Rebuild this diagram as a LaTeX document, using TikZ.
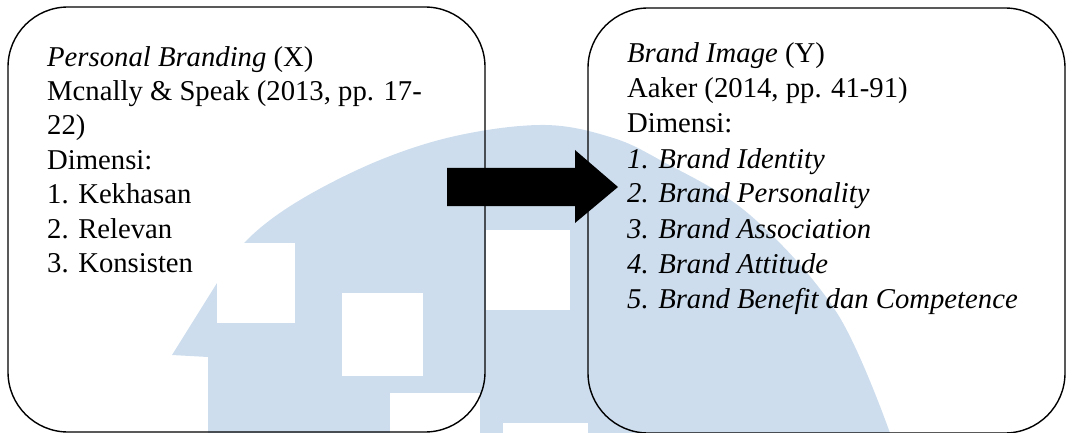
\documentclass[tikz,border=0pt]{standalone}
\usepackage{fontspec}
\setmainfont{Liberation Serif}
\definecolor{wm}{RGB}{205,221,237}
\begin{document}
\begin{tikzpicture}[x=1pt,y=-1pt,
  box/.style={draw=black,line width=1.4pt,rounded corners=60pt,inner sep=0pt,minimum width=477pt,minimum height=425pt},
  txt/.style={anchor=base west,inner sep=0pt,font=\fontsize{28.7}{34}\selectfont}]
\useasboundingbox (0,0) rectangle (1090,433);
% watermark
\fill[wm] plot[smooth,tension=0.6] coordinates {(217,283) (247,240) (300,200) (380,160) (460,135) (545,125) (610,137) (660,160) (750,215) (837,313) (890,433)} -- (208,433) -- (208,357) -- (172,355) -- cycle;
\fill[white] (217,243) rectangle (295,323);
\fill[white] (342,293) rectangle (423,376);
\fill[white] (390,393) rectangle (480,433);
\fill[white] (486,230) rectangle (570,310);
\fill[white] (503,423) rectangle (588,433);
% boxes
\node[box] (X) at (246.5,219.5) {};
\node[box] (Y) at (826.5,220.5) {};
% arrow
\coordinate (a0) at (447,187);
\coordinate (a1) at (618,187);
\fill[black] (a0) ++(0,-19) -- (575,168) -- (575,150) -- (a1) -- (575,223) -- (575,206) -- (447,206) -- cycle;
% left text
\node[txt] (l1) at (47,67) {\textit{Personal Branding} (X)};
\node[txt] (l2) at (47,101) {Mcnally \& Speak (2013, pp. 17-};
\node[txt] (l3) at (47,135) {22)};
\node[txt] (l4) at (47,169) {Dimensi:};
\node[txt] (l5) at (47,203.5) {1. Kekhasan};
\node[txt] (l6) at (47,238) {2. Relevan};
\node[txt] (l7) at (47,272) {3. Konsisten};
% right text
\node[txt] (r1) at (627,63) {\textit{Brand Image} (Y)};
\node[txt] (r2) at (627,98) {Aaker (2014, pp. 41-91)};
\node[txt] (r3) at (627,133) {Dimensi:};
\node[txt] (r4) at (627,168) {\textit{1. Brand Identity}};
\node[txt] (r5) at (627,203) {\textit{2. Brand Personality}};
\node[txt] (r6) at (627,238.5) {\textit{3. Brand Association}};
\node[txt] (r7) at (627,273) {\textit{4. Brand Attitude}};
\node[txt] (r8) at (627,308) {\textit{5. Brand Benefit dan Competence}};
\end{tikzpicture}
\end{document}
